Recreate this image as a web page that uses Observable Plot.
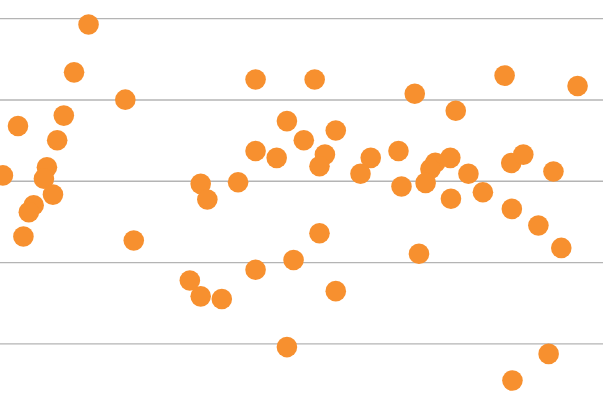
<!DOCTYPE html>
<html>
<head>
<meta charset="utf-8">
<script src="https://cdn.jsdelivr.net/npm/d3@7"></script>
<script src="https://cdn.jsdelivr.net/npm/@observablehq/plot@0.6"></script>
<style>
  html, body { margin: 0; padding: 0; background: #fff; overflow: hidden; }
</style>
</head>
<body>
<div id="chart"></div>
<script>
// values (x: 0-100, y: grid at 0/25/50/75/100)
const xs = [
  14.6, 12.2, 20.7, 10.5, 2.9, 9.4, 7.7, 0.4, 7.2, 8.7, 5.5, 4.7, 3.8, 22.1,
  33.2, 34.3, 39.4, 31.4, 33.2, 36.7, 42.3, 52.1, 47.5, 55.6, 50.3, 42.3, 45.8,
  53.8, 52.9, 61.4, 59.7, 52.9, 48.6, 42.3, 55.6, 47.5,
  83.6, 95.7, 68.7, 75.5, 66.0, 66.5, 72.1, 71.3, 70.5, 74.6, 77.6, 74.7, 80.0,
  84.7, 86.7, 91.7, 84.8, 89.2, 93.0, 69.4, 90.9, 84.9
]
const ys = [
  98.2, 83.5, 75.1, 70.2, 67.0, 62.6, 54.3, 51.8, 50.8, 45.9, 42.6, 40.5, 33.0, 31.8,
  49.2, 44.4, 49.7, 19.5, 14.6, 13.8, 81.3, 81.3, 68.5, 65.6, 62.6, 59.3, 57.2,
  58.2, 54.6, 57.2, 52.3, 34.0, 25.8, 22.8, 16.2, -1.0,
  82.5, 79.3, 76.9, 71.7, 59.3, 48.4, 55.7, 53.8, 49.5, 57.2, 52.3, 44.6, 46.6,
  55.6, 58.2, 53.0, 41.5, 36.4, 29.5, 27.7, -3.1, -11.3
]
const gridTicks = [0, 25, 50, 75, 100]

const data = xs.map((x, i) => ({x: x, y: ys[i]}))

let chart = Plot.plot({
  width: 603,
  height: 409,
  margin: 0,
  x: {domain: [0, 100], axis: null},
  y: {domain: [-20.2, 105.6], axis: null},
  marks: [
    Plot.ruleY(gridTicks, {stroke: "#b4b4b4", strokeWidth: 1.3}),
    Plot.dot(data, {
      x: "x",
      y: "y",
      r: 10.3,
      fill: "#f7902f",
      fillOpacity: 1,
    }),
  ],
})
d3.select("#chart").append(() => chart)
</script>
</body>
</html>
